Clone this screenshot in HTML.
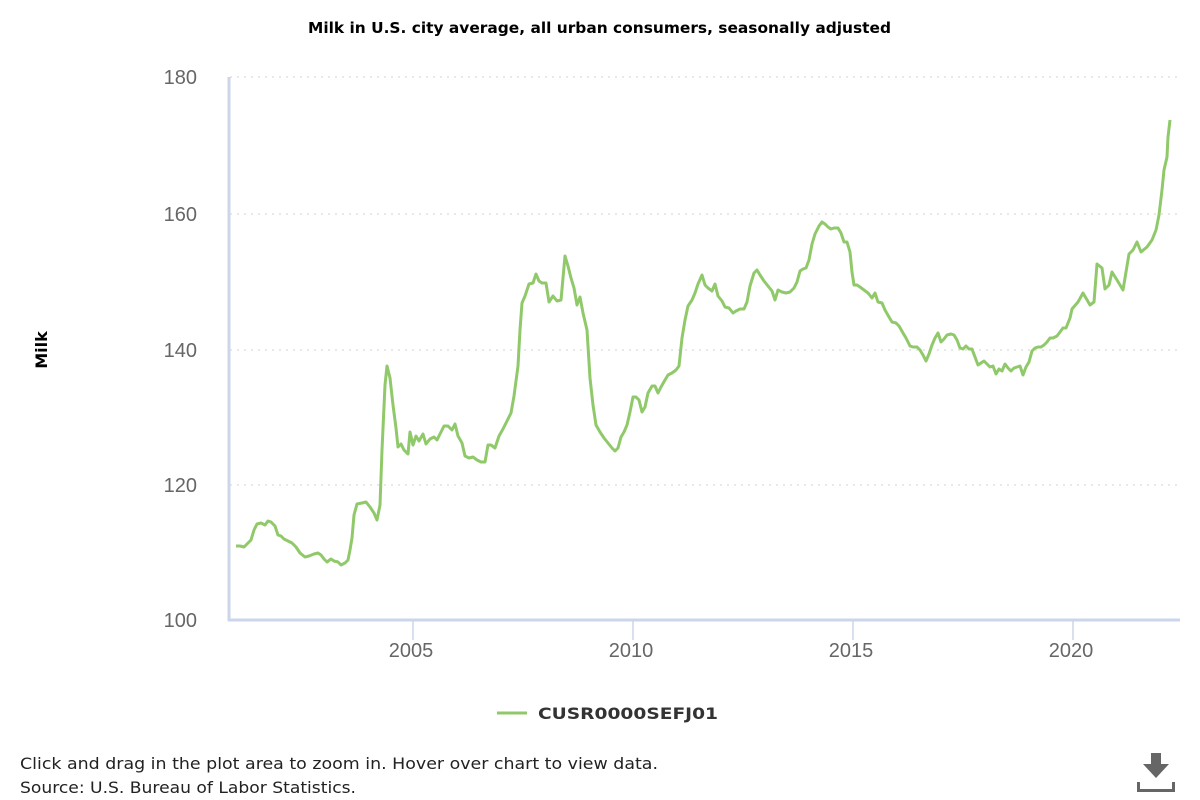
<!DOCTYPE html>
<html><head><meta charset="utf-8"><style>
body{margin:0;width:1200px;height:800px;background:#fff;overflow:hidden;font-family:"DejaVu Sans","Liberation Sans",sans-serif;}
</style></head><body>
<svg width="1200" height="800" xmlns="http://www.w3.org/2000/svg" style="position:absolute;left:0;top:0">
<text x="308" y="33" font-size="15" font-weight="bold" fill="#000" textLength="583" lengthAdjust="spacingAndGlyphs">Milk in U.S. city average, all urban consumers, seasonally adjusted</text>
<g stroke="#e0e0e0" stroke-width="1.5" stroke-dasharray="2,5">
<line x1="230" y1="77" x2="1180" y2="77"/><line x1="230" y1="214" x2="1180" y2="214"/>
<line x1="230" y1="350" x2="1180" y2="350"/><line x1="230" y1="485" x2="1180" y2="485"/></g>
<g stroke="#ccd6eb"><line x1="229" y1="77" x2="229" y2="621" stroke-width="3"/>
<line x1="228" y1="620" x2="1180" y2="620" stroke-width="3"/>
<line x1="413" y1="620" x2="413" y2="640" stroke-width="1.5"/><line x1="633" y1="620" x2="633" y2="640" stroke-width="1.5"/>
<line x1="853" y1="620" x2="853" y2="640" stroke-width="1.5"/><line x1="1073" y1="620" x2="1073" y2="640" stroke-width="1.5"/></g>
<g font-size="20" fill="#666" text-anchor="end" font-family="Liberation Sans">
<text x="197" y="84">180</text><text x="197" y="221">160</text><text x="197" y="357">140</text><text x="197" y="492">120</text><text x="197" y="627">100</text></g>
<g font-size="20" fill="#666" text-anchor="middle" font-family="Liberation Sans">
<text x="411" y="657">2005</text><text x="631" y="657">2010</text><text x="851" y="657">2015</text><text x="1071" y="657">2020</text></g>
<text transform="translate(47,350) rotate(-90)" text-anchor="middle" font-size="16" font-weight="bold">Milk</text>
<polyline fill="none" stroke="#90c96a" stroke-width="3" stroke-linejoin="round" points="236,546 240,546 244,547 248,543 251,540 254,530 257,524 261,523 265,525 268,521 271,522 275,526 278,535 281,536 284,539 288,541 292,543 296,547 300,553 305,557 309,556 314,554 318,553 321,555 324,559 327,562 331,559 334,561 338,562 341,565 345,563 348,560 350,550 352,538 354,515 357,504 362,503 366,502 370,507 374,513 377,520 380,505 382,450 385,385 387,366 390,378 393,405 396,428 398,447 401,444 404,450 408,454 410,432 413,445 416,436 419,441 423,434 426,444 430,439 434,437 437,440 440,434 444,426 448,426 452,430 455,424 458,436 462,443 465,456 469,458 473,457 477,460 481,462 485,462 488,445 491,445 495,448 499,436 503,429 507,421 511,413 514,396 518,366 520,330 522,303 525,296 529,284 533,283 536,274 539,281 542,283 546,283 549,302 553,296 557,301 561,300 565,256 568,266 571,278 574,288 577,305 580,297 583,313 587,330 590,378 593,405 596,425 600,432 604,438 608,443 612,448 615,451 618,448 621,437 624,432 627,425 630,412 633,397 636,397 639,400 642,412 645,407 648,393 652,386 655,386 658,393 661,387 665,380 668,375 672,373 676,370 679,366 682,338 685,320 688,306 692,300 695,293 698,284 702,275 705,285 708,288 712,291 715,284 718,296 722,301 725,307 729,308 733,313 736,311 740,309 744,309 747,302 750,286 754,273 757,270 760,275 764,281 768,286 772,291 775,300 778,290 782,292 786,293 790,292 794,288 797,282 800,271 803,269 806,268 809,260 812,244 815,234 819,226 822,222 825,224 828,227 831,229 834,228 838,228 841,233 844,242 847,242 850,252 852,272 854,285 857,285 860,287 864,290 868,293 872,298 875,293 878,302 882,303 885,310 889,317 892,322 896,323 899,326 903,333 906,338 910,346 913,347 917,347 920,350 923,355 926,361 929,354 932,345 935,338 938,333 941,342 944,339 947,335 951,334 954,335 957,340 960,348 963,349 966,346 969,349 972,349 975,357 978,365 981,363 984,361 987,364 990,367 993,366 996,374 999,369 1002,371 1005,364 1008,368 1011,371 1014,368 1017,367 1020,366 1023,375 1026,367 1029,362 1032,351 1035,348 1038,347 1041,347 1044,345 1047,342 1050,338 1053,338 1057,336 1060,332 1063,328 1066,328 1070,318 1072,309 1078,302 1083,293 1090,305 1094,302 1097,264 1102,268 1105,289 1109,285 1112,272 1117,280 1123,290 1129,254 1133,250 1137,242 1141,252 1147,247 1152,240 1156,230 1159,215 1162,190 1164,170 1167,157 1168,137 1170,120"/>
<line x1="497" y1="713" x2="527" y2="713" stroke="#90c96a" stroke-width="3"/>
<text x="538" y="719" font-size="16" font-weight="bold" fill="#333" textLength="180" lengthAdjust="spacingAndGlyphs">CUSR0000SEFJ01</text>
<text x="20" y="769" font-size="16" fill="#222" textLength="638" lengthAdjust="spacingAndGlyphs">Click and drag in the plot area to zoom in. Hover over chart to view data.</text>
<text x="20" y="793" font-size="16" fill="#222" textLength="336" lengthAdjust="spacingAndGlyphs">Source: U.S. Bureau of Labor Statistics.</text>
<g fill="#666"><rect x="1151" y="753" width="10" height="12"/><polygon points="1143,764 1169,764 1156,778"/>
<rect x="1137" y="782" width="3" height="10"/><rect x="1172" y="782" width="3" height="10"/><rect x="1137" y="789" width="38" height="3"/></g>
</svg>
</body></html>
